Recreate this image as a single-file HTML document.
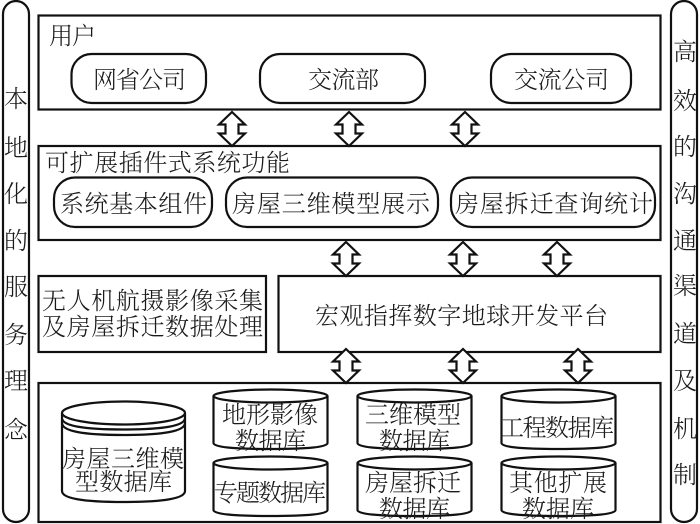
<!DOCTYPE html>
<html><head><meta charset="utf-8"><style>
html,body{margin:0;padding:0;background:#fff;width:700px;height:524px;overflow:hidden}
svg{display:block}
text{font-family:"Liberation Serif","Noto Serif CJK SC",serif;font-size:24px;fill:#1a1a1a;font-weight:300}
.b{fill:none;stroke:#111;stroke-width:2.2}
.a{fill:#fff;stroke:#111;stroke-width:2.2;stroke-linejoin:miter}
.v{text-anchor:middle}
</style></head><body>
<svg width="700" height="524" viewBox="0 0 700 524" xmlns="http://www.w3.org/2000/svg">
<defs>
<path id="ar" class="a" d="M0 0L13 12.5L6.5 12.5L6.5 21.5L13 21.5L0 34L-13 21.5L-6.5 21.5L-6.5 12.5L-13 12.5Z"/>
<g id="cy"><path class="b" d="M0 7V54Q0 60 57 60Q114 60 114 54V7"/><ellipse class="b" cx="57" cy="7" rx="57" ry="6.5"/></g>
</defs>
<rect class="b" x="3" y="1" width="26" height="521" rx="13"/>
<rect class="b" x="671" y="1" width="26" height="521" rx="13"/>
<rect class="b" x="38.5" y="15.5" width="622" height="94"/>
<rect class="b" x="38.5" y="146" width="622" height="94"/>
<rect class="b" x="38.5" y="276" width="227.5" height="76"/>
<rect class="b" x="278.5" y="276" width="382" height="76"/>
<rect class="b" x="38.5" y="383" width="622" height="139"/>
<rect class="b" x="71.5" y="54" width="134.5" height="49" rx="20"/>
<rect class="b" x="260" y="54" width="165" height="49" rx="20"/>
<rect class="b" x="491" y="54" width="140" height="49" rx="20"/>
<rect class="b" x="54" y="177.5" width="158" height="49.5" rx="21"/>
<rect class="b" x="226" y="177.5" width="212" height="49.5" rx="21"/>
<rect class="b" x="451" y="177.5" width="204" height="49.5" rx="21"/>
<use href="#ar" x="232" y="112"/><use href="#ar" x="349" y="112"/><use href="#ar" x="465" y="112"/>
<use href="#ar" x="346" y="242"/><use href="#ar" x="463" y="242"/><use href="#ar" x="557" y="242"/>
<use href="#ar" x="346" y="349"/><use href="#ar" x="463" y="349"/><use href="#ar" x="578" y="349"/>
<path class="b" d="M62 413V491Q62 502 123.5 502Q185 502 185 491V413"/>
<ellipse class="b" cx="123.5" cy="413" rx="61.5" ry="11.5"/>
<path class="b" d="M62 418Q62 429.5 123.5 429.5Q185 429.5 185 418M62 423Q62 435 123.5 435Q185 435 185 423"/>
<use href="#cy" x="213.5" y="389"/><use href="#cy" x="213.5" y="456"/>
<use href="#cy" x="357.5" y="389"/><use href="#cy" x="357.5" y="456"/>
<use href="#cy" x="501.5" y="389"/><use href="#cy" x="501.5" y="456"/>
<text x="49" y="44" textLength="47">用户</text>
<text x="93" y="88" textLength="93">网省公司</text>
<text x="308" y="88" textLength="71">交流部</text>
<text x="514" y="88" textLength="95">交流公司</text>
<text x="45" y="171" textLength="245">可扩展插件式系统功能</text>
<text x="60" y="212" textLength="147">系统基本组件</text>
<text x="232" y="212" textLength="198">房屋三维模型展示</text>
<text x="455" y="212" textLength="198">房屋拆迁查询统计</text>
<text x="42" y="309" textLength="221">无人机航摄影像采集</text>
<text x="42" y="335" textLength="221">及房屋拆迁数据处理</text>
<text x="315" y="324" textLength="293">宏观指挥数字地球开发平台</text>
<text x="62" y="467" textLength="122">房屋三维模</text>
<text x="75" y="490" textLength="97">型数据库</text>
<text x="222" y="423" textLength="96">地形影像</text>
<text x="235" y="449" textLength="71">数据库</text>
<text x="214" y="501" textLength="112">专题数据库</text>
<text x="365" y="423" textLength="96">三维模型</text>
<text x="379" y="449" textLength="71">数据库</text>
<text x="365" y="491" textLength="96">房屋拆迁</text>
<text x="379" y="517" textLength="71">数据库</text>
<text x="500" y="436" textLength="114">工程数据库</text>
<text x="509" y="491" textLength="98">其他扩展</text>
<text x="522" y="517" textLength="72">数据库</text>
<text class="v" x="16" y="107">本</text><text class="v" x="16" y="156">地</text><text class="v" x="16" y="202">化</text><text class="v" x="16" y="249">的</text><text class="v" x="16" y="295">服</text><text class="v" x="16" y="343">务</text><text class="v" x="16" y="389">理</text><text class="v" x="16" y="438">念</text>
<text class="v" x="685" y="60">高</text><text class="v" x="685" y="109">效</text><text class="v" x="685" y="155">的</text><text class="v" x="685" y="202">沟</text><text class="v" x="685" y="249">通</text><text class="v" x="685" y="294">渠</text><text class="v" x="685" y="342">道</text><text class="v" x="685" y="389">及</text><text class="v" x="685" y="437">机</text><text class="v" x="685" y="483">制</text>
</svg>
</body></html>
